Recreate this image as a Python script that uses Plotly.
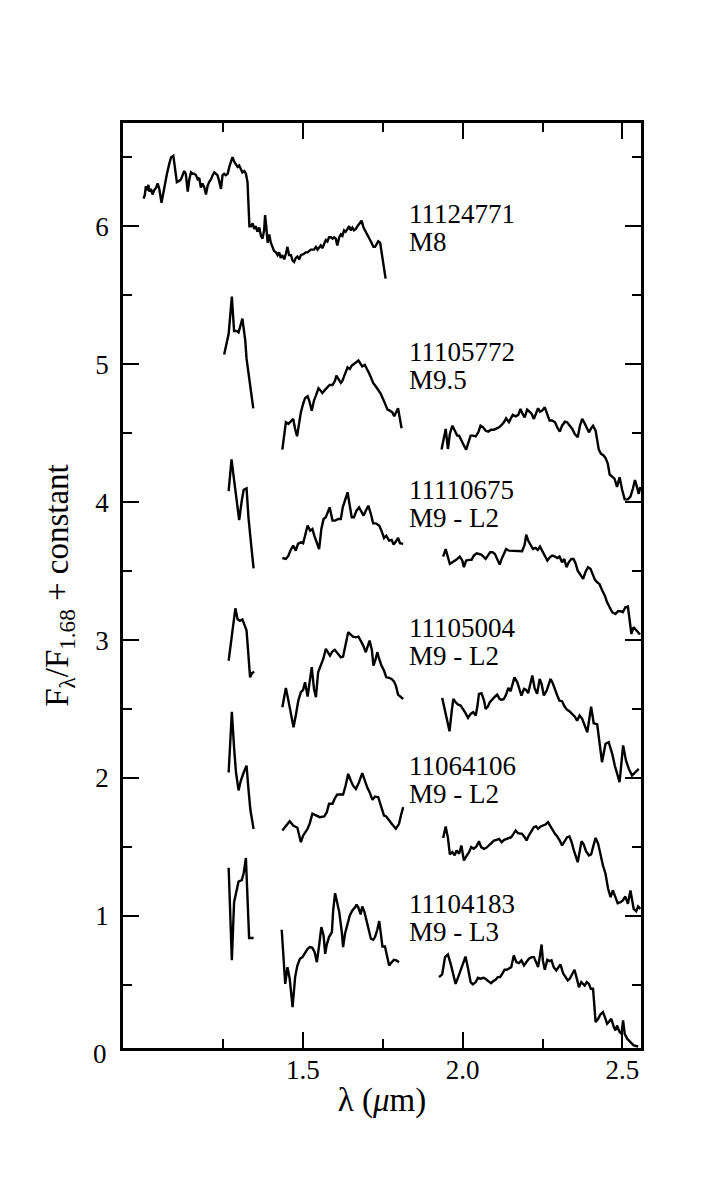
import plotly.graph_objects as go

# ---------------- data ----------------
# 11124771 (M8): continuous spectrum
w_11124771 = [1.002,1.006,1.009,1.012,1.017,1.020,1.025,1.030,1.035,1.041,
              1.046,1.051,1.058,1.065,1.070,1.075,1.082,1.088,1.095,1.100,
              1.106,1.114,1.119,1.124,1.129,1.134,1.140,1.145,1.150,1.155,
              1.160,1.166,1.171,1.176,1.181,1.186,1.192,1.197,1.202,1.207,
              1.213,1.218,1.223,1.228,1.233,1.238,1.244,1.249,1.254,1.259,
              1.265,1.270,1.275,1.280,1.285,1.291,1.296,1.301,1.306,1.311,
              1.317,1.322,1.327,1.330,1.333,1.338,1.343,1.348,1.353,1.358,
              1.364,1.369,1.374,1.379,1.382,1.386,1.390,1.395,1.400,1.405,
              1.410,1.416,1.421,1.426,1.431,1.436,1.442,1.447,1.452,1.457,
              1.463,1.468,1.473,1.478,1.483,1.489,1.494,1.504,1.509,1.515,
              1.525,1.535,1.541,1.546,1.556,1.561,1.567,1.572,1.577,1.582,
              1.588,1.593,1.598,1.603,1.608,1.614,1.619,1.624,1.629,1.634,
              1.640,1.645,1.650,1.655,1.660,1.666,1.671,1.679,1.684,1.690,
              1.697,1.704,1.710,1.715,1.721,1.726,1.731,1.736,1.742,1.746,
              1.750,1.754,1.759]
f_11124771 = [6.20,6.23,6.29,6.26,6.30,6.25,6.27,6.23,6.26,6.28,
              6.31,6.27,6.17,6.26,6.33,6.38,6.45,6.50,6.51,6.43,
              6.32,6.33,6.34,6.37,6.40,6.38,6.25,6.34,6.39,6.38,
              6.38,6.37,6.34,6.35,6.28,6.31,6.28,6.23,6.29,6.32,
              6.34,6.37,6.39,6.38,6.37,6.33,6.27,6.37,6.38,6.37,
              6.38,6.43,6.46,6.50,6.47,6.45,6.43,6.44,6.41,6.39,
              6.40,6.38,6.32,6.18,6.00,6.00,6.02,5.98,6.00,5.96,
              5.99,5.93,5.91,5.97,6.08,5.99,5.88,5.94,5.88,5.85,
              5.82,5.81,5.79,5.81,5.77,5.79,5.76,5.80,5.85,5.79,
              5.79,5.75,5.74,5.77,5.78,5.76,5.79,5.80,5.81,5.81,
              5.83,5.83,5.85,5.83,5.86,5.84,5.88,5.90,5.89,5.92,
              5.92,5.91,5.92,5.91,5.86,5.92,5.94,5.93,5.97,5.96,
              5.98,6.00,5.97,5.99,5.97,5.98,6.00,6.02,6.04,5.99,
              5.96,5.93,5.91,5.88,5.85,5.85,5.87,5.89,5.88,5.82,
              5.76,5.69,5.62]

# 11105772 (M9.5)
jw_11105772 = [1.254,1.268,1.278,1.285,1.293,1.299,1.311,1.320,1.324,1.332,1.338,1.345]
jf_11105772 = [5.07,5.22,5.49,5.24,5.24,5.23,5.33,5.17,5.04,4.92,4.80,4.68]
hw_11105772 = [1.436,1.447,1.455,1.462,1.470,1.476,1.482,1.489,1.494,1.501,
               1.507,1.515,1.520,1.528,1.535,1.541,1.549,1.556,1.561,1.570,
               1.577,1.584,1.593,1.601,1.605,1.611,1.619,1.624,1.632,1.640,
               1.647,1.653,1.660,1.668,1.674,1.681,1.686,1.694,1.700,1.707,
               1.713,1.720,1.728,1.735,1.744,1.751,1.757,1.765,1.772,1.780,
               1.786,1.793,1.798,1.803,1.809]
hf_11105772 = [4.381,4.579,4.567,4.583,4.603,4.530,4.477,4.579,4.651,4.712,
               4.753,4.767,4.736,4.663,4.736,4.772,4.825,4.808,4.791,4.815,
               4.832,4.849,4.849,4.881,4.917,4.893,4.864,4.881,4.929,4.977,
               4.965,4.989,5.001,5.018,5.026,5.001,4.984,4.994,4.970,4.936,
               4.905,4.864,4.840,4.815,4.784,4.748,4.712,4.670,4.663,4.651,
               4.622,4.651,4.680,4.615,4.535]
kw_11105772 = [1.934,1.942,1.947,1.954,1.960,1.968,1.975,1.983,1.989,1.997,
               2.004,2.011,2.018,2.025,2.032,2.041,2.049,2.056,2.064,2.072,
               2.080,2.089,2.098,2.105,2.114,2.122,2.129,2.136,2.145,2.150,
               2.157,2.166,2.174,2.181,2.186,2.194,2.202,2.209,2.216,2.223,
               2.230,2.236,2.242,2.249,2.257,2.265,2.272,2.280,2.289,2.296,
               2.304,2.311,2.320,2.327,2.334,2.343,2.351,2.360,2.367,2.374,
               2.381,2.388,2.395,2.402,2.408,2.416,2.421,
               2.426,2.433,2.440,2.447,2.454,2.460,2.468,2.475,2.483,2.491,
               2.499,2.507,2.517,2.525,2.533,2.539,2.543,2.551,2.556]
kf_11105772 = [4.381,4.482,4.530,4.385,4.494,4.554,4.518,4.482,4.482,4.439,
               4.410,4.381,4.434,4.482,4.482,4.477,4.506,4.554,4.542,4.518,
               4.511,4.525,4.525,4.530,4.542,4.559,4.579,4.608,4.579,4.603,
               4.632,4.622,4.632,4.675,4.646,4.615,4.670,4.656,4.639,4.603,
               4.646,4.680,4.656,4.663,4.687,4.639,4.591,4.591,4.579,4.542,
               4.511,4.554,4.583,4.579,4.559,4.530,4.494,4.470,4.554,4.603,
               4.574,4.542,4.506,4.535,4.554,4.518,4.446,
               4.38,4.35,4.34,4.32,4.28,4.20,4.18,4.17,4.11,4.18,
               4.09,4.02,4.02,4.04,4.10,4.16,4.13,4.06,4.11]

# 11110675 (M9 - L2)
jw_11110675 = [1.268,1.277,1.285,1.293,1.301,1.309,1.315,1.324,1.330,1.338,1.346]
jf_11110675 = [4.08,4.31,4.16,4.01,3.87,4.01,4.09,4.10,3.89,3.70,3.52]
hw_11110675 = [1.436,1.447,1.455,1.462,1.470,1.478,1.485,1.494,1.501,1.507,
               1.515,1.523,1.530,1.536,1.544,1.551,1.558,1.565,1.572,1.579,
               1.584,1.593,1.601,1.611,1.619,1.625,1.632,1.640,1.647,1.653,
               1.660,1.668,1.676,1.683,1.690,1.697,1.705,1.713,1.720,1.728,
               1.739,1.746,1.754,1.761,1.770,1.778,1.784,1.791,1.798,1.804,
               1.814]
hf_11110675 = [3.595,3.588,3.612,3.653,3.685,3.648,3.697,3.709,3.702,3.757,
               3.830,3.793,3.805,3.757,3.709,3.660,3.805,3.878,3.890,3.926,
               3.962,3.866,3.866,3.878,3.878,3.962,4.011,4.071,3.974,3.890,
               3.890,3.938,3.962,3.926,3.902,3.938,3.974,3.914,3.846,3.846,
               3.830,3.793,3.740,3.757,3.721,3.726,3.692,3.714,3.740,3.702,
               3.697]
kw_11110675 = [1.939,1.947,1.954,1.960,1.968,1.976,1.983,1.991,1.999,2.004,
               2.011,2.020,2.028,2.035,2.044,2.051,2.058,2.065,2.072,2.079,
               2.086,2.094,2.101,2.108,2.116,2.122,2.130,2.136,2.145,2.155,
               2.164,2.171,2.178,2.186,2.194,2.199,2.205,2.213,2.220,2.228,
               2.235,2.242,2.249,2.256,2.265,2.273,2.280,2.289,2.296,2.303,
               2.311,2.318,2.325,2.332,2.340,2.347,2.353,2.360,2.369,2.377,
               2.384,2.392,2.400,2.407,2.414,2.421,2.428,2.436,2.445,2.452,
               2.460,2.468,2.478,2.486,2.494,2.501,2.509,2.517,2.520,2.528,
               2.535,2.544,2.551,2.555]
kf_11110675 = [3.605,3.660,3.600,3.552,3.564,3.576,3.588,3.605,3.576,3.528,
               3.576,3.581,3.581,3.612,3.629,3.624,3.619,3.605,3.588,3.612,
               3.636,3.636,3.624,3.588,3.547,3.588,3.629,3.660,3.648,3.648,
               3.644,3.648,3.648,3.644,3.692,3.764,3.721,3.685,3.660,3.668,
               3.653,3.677,3.648,3.619,3.576,3.600,3.612,3.605,3.595,3.605,
               3.564,3.588,3.528,3.564,3.588,3.588,3.557,3.503,3.474,3.443,
               3.491,3.528,3.516,3.479,3.436,3.419,3.407,3.363,3.322,3.274,
               3.238,3.202,3.189,3.209,3.209,3.202,3.238,3.243,3.189,3.044,
               3.093,3.069,3.057,3.040]

# 11105004 (M9 - L2)
jw_11105004 = [1.268,1.275,1.282,1.289,1.296,1.303,1.311,1.317,1.324,1.329,1.335,1.341,1.348]
jf_11105004 = [2.85,2.97,3.11,3.23,3.15,3.14,3.15,3.11,3.07,2.92,2.73,2.76,2.77]
hw_11105004 = [1.436,1.447,1.455,1.464,1.471,1.478,1.486,1.494,1.501,1.507,
               1.515,1.522,1.528,1.535,1.541,1.548,1.556,1.564,1.572,1.579,
               1.585,1.593,1.600,1.606,1.611,1.619,1.626,1.634,1.642,1.650,
               1.657,1.666,1.674,1.681,1.689,1.697,1.702,1.709,1.716,1.721,
               1.728,1.733,1.739,1.746,1.754,1.761,1.770,1.778,1.785,1.791,
               1.798,1.806,1.814]
hf_11105004 = [2.513,2.653,2.561,2.453,2.368,2.453,2.561,2.622,2.639,2.694,
               2.590,2.706,2.803,2.646,2.586,2.767,2.815,2.863,2.936,2.912,
               2.887,2.919,2.929,2.912,2.895,2.875,2.880,2.960,3.057,3.040,
               3.025,3.020,3.025,2.996,2.960,2.912,2.948,2.996,2.929,2.815,
               2.863,2.912,2.863,2.815,2.779,2.730,2.726,2.718,2.701,2.670,
               2.605,2.586,2.573]
kw_11105004 = [1.936,1.945,1.952,1.959,1.966,1.971,1.978,1.986,1.994,2.001,
               2.009,2.017,2.025,2.033,2.041,2.046,2.051,2.059,2.067,2.072,
               2.079,2.085,2.093,2.101,2.108,2.116,2.122,2.129,2.136,2.143,
               2.150,2.155,2.162,2.171,2.178,2.184,2.192,2.199,2.205,2.213,
               2.218,2.225,2.233,2.241,2.247,2.254,2.263,2.270,2.275,2.282,
               2.289,2.296,2.303,2.311,2.319,2.327,2.334,2.343,2.351,2.358,
               2.366,2.374,2.382,2.390,2.402,2.410,2.421,2.436,2.447,2.457,
               2.468,2.476,2.491,2.502,2.511,2.520,2.530,2.541,2.551]
kf_11105004 = [2.581,2.489,2.404,2.339,2.489,2.573,2.549,2.532,2.525,2.501,
               2.470,2.436,2.465,2.477,2.453,2.518,2.610,2.615,2.561,2.501,
               2.518,2.549,2.573,2.590,2.605,2.573,2.566,2.573,2.605,2.653,
               2.629,2.670,2.730,2.694,2.639,2.598,2.646,2.639,2.615,2.682,
               2.743,2.653,2.610,2.718,2.682,2.598,2.634,2.682,2.718,2.687,
               2.639,2.598,2.561,2.557,2.518,2.494,2.484,2.465,2.445,2.416,
               2.453,2.429,2.380,2.332,2.518,2.397,2.388,2.115,2.248,2.260,
               2.175,2.091,1.970,2.236,2.127,2.066,2.018,2.042,2.066]

# 11064106 (M9 - L2)
jw_11064106 = [1.268,1.278,1.285,1.291,1.299,1.306,1.315,1.324,1.330,1.336,1.346]
jf_11064106 = [2.04,2.48,2.22,2.04,1.91,1.98,2.04,2.09,1.92,1.77,1.63]
hw_11064106 = [1.436,1.449,1.459,1.470,1.483,1.494,1.501,1.515,1.522,1.530,
               1.541,1.553,1.567,1.575,1.582,1.593,1.601,1.608,1.619,1.626,
               1.634,1.642,1.650,1.657,1.666,1.676,1.686,1.695,1.702,1.709,
               1.718,1.726,1.736,1.744,1.754,1.761,1.770,1.780,1.791,1.801,
               1.807,1.814]
hf_11064106 = [1.620,1.656,1.687,1.656,1.639,1.535,1.583,1.632,1.673,1.741,
               1.728,1.716,1.721,1.752,1.813,1.813,1.856,1.880,1.880,1.880,
               1.946,2.030,1.982,1.946,1.921,1.970,2.035,1.970,1.929,1.897,
               1.842,1.866,1.861,1.801,1.728,1.721,1.697,1.663,1.632,1.668,
               1.728,1.789]
kw_11064106 = [1.939,1.947,1.954,1.960,1.968,1.975,1.981,1.989,1.996,2.004,
               2.011,2.020,2.027,2.035,2.043,2.051,2.058,2.067,2.074,2.082,
               2.091,2.098,2.106,2.114,2.122,2.130,2.138,2.145,2.152,2.158,
               2.166,2.173,2.179,2.186,2.194,2.200,2.207,2.216,2.223,2.230,
               2.236,2.244,2.251,2.259,2.267,2.273,2.280,2.289,2.296,2.304,
               2.311,2.320,2.327,2.334,2.341,2.348,2.355,2.360,2.367,2.372,
               2.379,2.386,2.395,2.402,2.408,2.416,2.424,2.431,2.439,2.447,
               2.455,2.463,2.470,2.478,2.485,2.494,2.501,2.509,2.517,2.525,
               2.530,2.535,2.543,2.549,2.556]
kf_11064106 = [1.566,1.649,1.566,1.446,1.463,1.439,1.475,1.451,1.511,1.402,
               1.431,1.463,1.499,1.487,1.504,1.542,1.499,1.487,1.494,1.511,
               1.535,1.547,1.552,1.559,1.535,1.552,1.559,1.566,1.571,1.591,
               1.620,1.600,1.600,1.595,1.571,1.547,1.583,1.620,1.644,1.649,
               1.632,1.649,1.656,1.663,1.680,1.656,1.624,1.595,1.576,1.547,
               1.511,1.547,1.571,1.576,1.535,1.475,1.414,1.390,1.479,1.542,
               1.518,1.470,1.439,1.446,1.499,1.566,1.523,1.439,1.366,1.306,
               1.197,1.137,1.185,1.137,1.093,1.100,1.112,1.141,1.088,1.185,
               1.117,1.052,1.035,1.069,1.052]

# 11104183 (M9 - L3)
jw_11104183 = [1.268,1.278,1.285,1.293,1.299,1.309,1.315,1.322,1.332,1.346]
jf_11104183 = [1.35,0.68,1.10,1.20,1.25,1.26,1.31,1.42,0.84,0.84]
hw_11104183 = [1.434,1.445,1.452,1.459,1.468,1.476,1.483,1.491,1.499,1.507,
               1.515,1.522,1.530,1.537,1.544,1.551,1.558,1.565,1.570,1.575,
               1.582,1.591,1.595,1.601,1.608,1.614,1.622,1.626,1.632,1.640,
               1.647,1.655,1.664,1.668,1.674,1.681,1.686,1.693,1.699,1.705,
               1.713,1.720,1.726,1.733,1.739,1.744,1.749,1.757,1.765,1.770,
               1.778,1.785,1.793,1.801]
hf_11104183 = [0.900,0.508,0.629,0.545,0.339,0.557,0.641,0.690,0.702,0.731,
               0.762,0.774,0.769,0.738,0.665,0.786,0.919,0.859,0.726,0.793,
               0.847,0.883,1.040,1.165,1.100,1.028,0.883,0.774,0.871,0.955,
               1.004,1.040,1.064,1.083,1.059,1.011,1.069,1.028,0.967,0.895,
               0.835,0.827,0.847,0.900,0.963,0.876,0.779,0.779,0.702,0.641,
               0.665,0.682,0.678,0.665]
kw_11104183 = [1.926,1.936,1.945,1.954,1.963,1.970,1.978,1.986,1.994,2.001,
               2.009,2.017,2.025,2.032,2.041,2.048,2.056,2.065,2.072,2.080,
               2.089,2.096,2.103,2.110,2.117,2.124,2.131,2.138,2.145,2.152,
               2.160,2.168,2.176,2.184,2.192,2.199,2.207,2.216,2.223,2.230,
               2.236,2.242,2.247,2.251,2.257,2.265,2.272,2.278,2.285,2.293,
               2.299,2.306,2.314,2.322,2.329,2.335,2.343,2.350,2.356,2.364,
               2.371,2.377,2.382,2.388,2.395,2.401,2.408,2.416,2.424,2.431,
               2.439,2.445,2.452,2.457,2.465,2.473,2.478,2.483,2.491,2.497,
               2.502,2.507,2.515,2.525,2.535,2.549]
kf_11104183 = [0.557,0.576,0.702,0.721,0.649,0.581,0.508,0.557,0.610,0.658,
               0.706,0.617,0.521,0.504,0.521,0.552,0.545,0.552,0.545,0.528,
               0.513,0.528,0.537,0.557,0.557,0.581,0.610,0.610,0.617,0.629,
               0.714,0.665,0.658,0.678,0.641,0.665,0.690,0.702,0.702,0.665,
               0.629,0.714,0.793,0.678,0.610,0.682,0.673,0.678,0.629,0.605,
               0.629,0.649,0.586,0.552,0.533,0.545,0.576,0.610,0.557,0.484,
               0.521,0.508,0.496,0.521,0.508,0.472,0.472,0.231,0.255,0.286,
               0.303,0.267,0.219,0.231,0.255,0.194,0.170,0.206,0.158,0.146,
               0.243,0.146,0.110,0.086,0.062,0.054]

object_ids = ["11124771", "11105772", "11110675", "11105004", "11064106", "11104183"]
spectral_types = ["M8", "M9.5", "M9 - L2", "M9 - L2", "M9 - L2", "M9 - L3"]
label_levels = [6, 5, 4, 3, 2, 1]

y_ticks = [1, 2, 3, 4, 5, 6]
y_minor = [0.5, 1.5, 2.5, 3.5, 4.5, 5.5, 6.5]
x_ticks = [1.5, 2.0, 2.5]
x_ticktext = ["1.5", "2.0", "2.5"]
x_minor = [1.25, 1.75, 2.25]

X_RANGE = [0.9375, 2.558]
Y_RANGE = [0.043, 6.748]

# ---------------- figure ----------------
FONT = "Liberation Serif, Times New Roman, serif"


def join(*segments):
    xs, ys = [], []
    for i, (w, f) in enumerate(segments):
        n = min(len(w), len(f))
        if i:
            xs.append(None)
            ys.append(None)
        xs.extend(w[:n])
        ys.extend(f[:n])
    return xs, ys


spectra = [
    join((w_11124771, f_11124771)),
    join((jw_11105772, jf_11105772), (hw_11105772, hf_11105772), (kw_11105772, kf_11105772)),
    join((jw_11110675, jf_11110675), (hw_11110675, hf_11110675), (kw_11110675, kf_11110675)),
    join((jw_11105004, jf_11105004), (hw_11105004, hf_11105004), (kw_11105004, kf_11105004)),
    join((jw_11064106, jf_11064106), (hw_11064106, hf_11064106), (kw_11064106, kf_11064106)),
    join((jw_11104183, jf_11104183), (hw_11104183, hf_11104183), (kw_11104183, kf_11104183)),
]

fig = go.Figure()
for name, (xs, ys) in zip(object_ids, spectra):
    fig.add_trace(go.Scatter(x=xs, y=ys, mode="lines", name=name,
                             line=dict(color="black", width=2.4),
                             connectgaps=False, showlegend=False,
                             hoverinfo="skip"))

annotations = []
for oid, st, lv in zip(object_ids, spectral_types, label_levels):
    annotations.append(dict(x=1.826, y=lv + 0.085, xref="x", yref="y", text=oid,
                            showarrow=False, xanchor="left", yanchor="middle",
                            font=dict(family=FONT, size=27, color="black")))
    annotations.append(dict(x=1.826, y=lv - 0.115, xref="x", yref="y", text=st,
                            showarrow=False, xanchor="left", yanchor="middle",
                            font=dict(family=FONT, size=27, color="black")))
# bottom "0" tick label: zero lies just below the frame, so place it in paper units
zero_paper = (0 - Y_RANGE[0]) / (Y_RANGE[1] - Y_RANGE[0])
annotations.append(dict(x=0, y=zero_paper, xref="paper", yref="paper", text="0",
                        showarrow=False, xanchor="right", yanchor="middle", xshift=-14,
                        font=dict(family=FONT, size=27, color="black")))

axis_common = dict(showline=True, linecolor="black", linewidth=2.5, mirror="allticks",
                   ticks="inside", ticklen=16, tickwidth=2, tickcolor="black",
                   showgrid=False, zeroline=False,
                   tickfont=dict(family=FONT, size=27, color="black"))

fig.update_layout(
    width=705, height=1200,
    margin=dict(l=123, r=64, t=123, b=152),
    paper_bgcolor="white", plot_bgcolor="white",
    annotations=annotations,
    xaxis=dict(range=X_RANGE, tickmode="array", tickvals=x_ticks, ticktext=x_ticktext,
               minor=dict(tickmode="array", tickvals=x_minor, ticks="inside", ticklen=9,
                          tickwidth=2, tickcolor="black", showgrid=False),
               title=dict(text="λ (<i>μ</i>m)", font=dict(family=FONT, size=33, color="black"),
                          standoff=4),
               ticklabelstandoff=-4,
               **axis_common),
    yaxis=dict(range=Y_RANGE, tickmode="array", tickvals=y_ticks,
               ticktext=[str(v) for v in y_ticks],
               minor=dict(tickmode="array", tickvals=y_minor, ticks="inside", ticklen=9,
                          tickwidth=2, tickcolor="black", showgrid=False),
               title=dict(text="F<sub>λ</sub>/F<sub>1.68</sub> + constant",
                          font=dict(family=FONT, size=33, color="black"), standoff=17),
               ticklabelstandoff=6,
               **axis_common),
)

fig.write_html("out.html")
